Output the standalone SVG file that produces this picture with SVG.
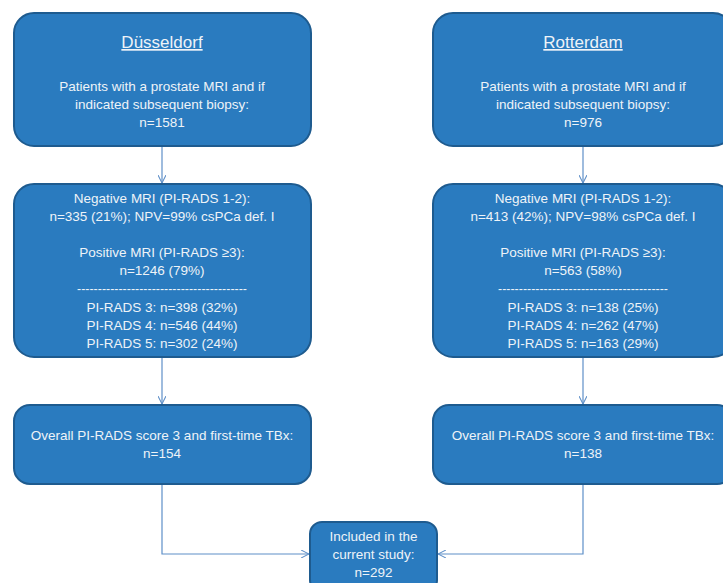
<svg xmlns="http://www.w3.org/2000/svg" width="723" height="583" viewBox="0 0 723 583">
<style>
.box{fill:#2a7bbf;stroke:#1e5b8f;stroke-width:2}
.t{font-family:"Liberation Sans",Arial,sans-serif;font-size:13.5px;fill:#eef3f8;text-anchor:middle}
.h{font-size:17px;text-decoration:underline}
.c{fill:none;stroke:#5e8fc8;stroke-width:1.2}
</style>
<defs>
<marker id="ah" viewBox="0 0 10 10" refX="10" refY="5" markerWidth="8" markerHeight="8" orient="auto" markerUnits="userSpaceOnUse">
<path d="M0,0 L10,5 L0,10" fill="none" stroke="#5e8fc8" stroke-width="1.3"/>
</marker>
</defs>
<rect width="723" height="583" fill="#ffffff"/>
<g id="connectors">
<path class="c" d="M162,146 V183" marker-end="url(#ah)"/>
<path class="c" d="M583,146 V183" marker-end="url(#ah)"/>
<path class="c" d="M162,357 V404" marker-end="url(#ah)"/>
<path class="c" d="M583,357 V404" marker-end="url(#ah)"/>
<path class="c" d="M162,484 V554 H309" marker-end="url(#ah)"/>
<path class="c" d="M583,484 V554 H438" marker-end="url(#ah)"/>
</g>
<g id="dusseldorf">
<rect class="box" x="14" y="13" width="297" height="133" rx="20"/>
<text class="t h" x="162" y="48">Düsseldorf</text>
<text class="t" x="162" y="91">Patients with a prostate MRI and if</text>
<text class="t" x="162" y="109">indicated subsequent biopsy:</text>
<text class="t" x="162" y="127">n=1581</text>
</g>
<g id="rotterdam">
<rect class="box" x="433" y="13" width="300" height="133" rx="20"/>
<text class="t h" x="583" y="48">Rotterdam</text>
<text class="t" x="583" y="91">Patients with a prostate MRI and if</text>
<text class="t" x="583" y="109">indicated subsequent biopsy:</text>
<text class="t" x="583" y="127">n=976</text>
</g>
<g id="dusseldorf-mri">
<rect class="box" x="14" y="184" width="297" height="173" rx="20"/>
<text class="t" x="162" y="203">Negative MRI (PI-RADS 1-2):</text>
<text class="t" x="162" y="221">n=335 (21%); NPV=99% csPCa def. I</text>
<text class="t" x="162" y="257">Positive MRI (PI-RADS ≥3):</text>
<text class="t" x="162" y="275">n=1246 (79%)</text>
<text class="t" x="162" y="293" textLength="170" lengthAdjust="spacingAndGlyphs">-----------------------------------------</text>
<text class="t" x="162" y="312">PI-RADS 3: n=398 (32%)</text>
<text class="t" x="162" y="330">PI-RADS 4: n=546 (44%)</text>
<text class="t" x="162" y="348">PI-RADS 5: n=302 (24%)</text>
</g>
<g id="rotterdam-mri">
<rect class="box" x="433" y="184" width="300" height="173" rx="20"/>
<text class="t" x="583" y="203">Negative MRI (PI-RADS 1-2):</text>
<text class="t" x="583" y="221">n=413 (42%); NPV=98% csPCa def. I</text>
<text class="t" x="583" y="257">Positive MRI (PI-RADS ≥3):</text>
<text class="t" x="583" y="275">n=563 (58%)</text>
<text class="t" x="583" y="293" textLength="170" lengthAdjust="spacingAndGlyphs">-----------------------------------------</text>
<text class="t" x="583" y="312">PI-RADS 3: n=138 (25%)</text>
<text class="t" x="583" y="330">PI-RADS 4: n=262 (47%)</text>
<text class="t" x="583" y="348">PI-RADS 5: n=163 (29%)</text>
</g>
<g id="dusseldorf-tbx">
<rect class="box" x="14" y="405" width="297" height="79" rx="16"/>
<text class="t" x="162" y="440">Overall PI-RADS score 3 and first-time TBx:</text>
<text class="t" x="162" y="458">n=154</text>
</g>
<g id="rotterdam-tbx">
<rect class="box" x="433" y="405" width="300" height="79" rx="16"/>
<text class="t" x="583" y="440">Overall PI-RADS score 3 and first-time TBx:</text>
<text class="t" x="583" y="458">n=138</text>
</g>
<g id="included">
<rect class="box" x="310" y="522" width="127" height="70" rx="12"/>
<text class="t" x="373.5" y="541">Included in the</text>
<text class="t" x="373.5" y="559">current study:</text>
<text class="t" x="373.5" y="577">n=292</text>
</g>
</svg>
